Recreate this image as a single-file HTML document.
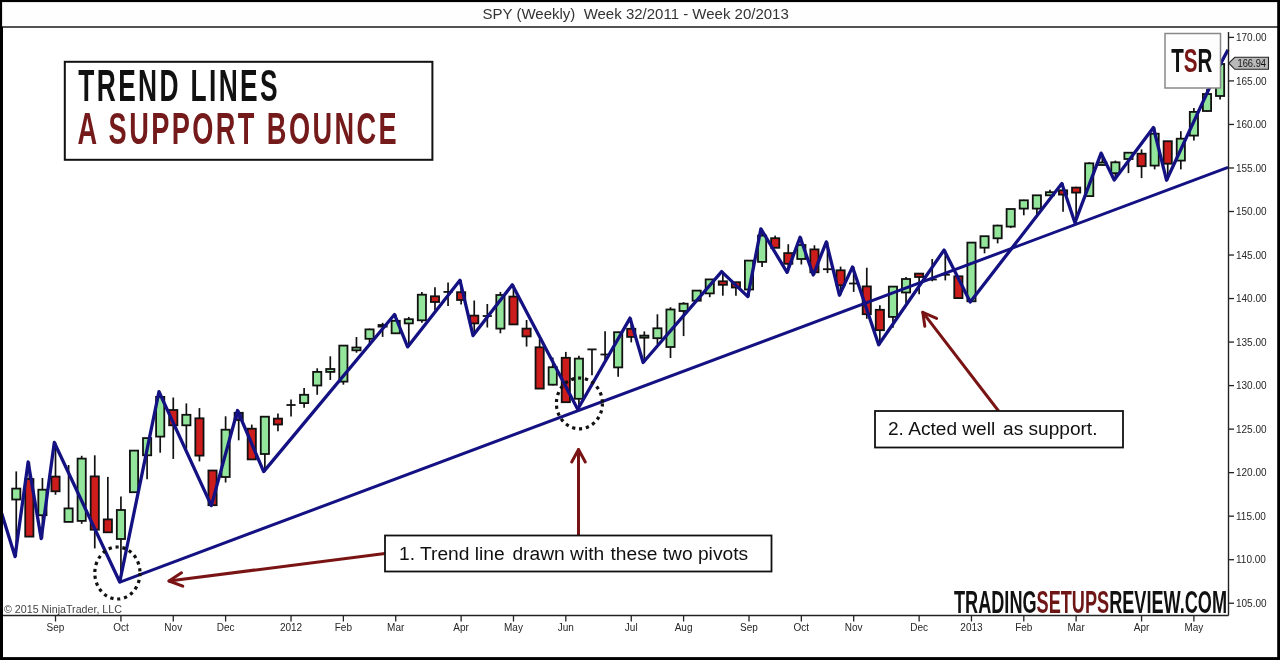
<!DOCTYPE html>
<html><head><meta charset="utf-8"><title>SPY Weekly - Trend Lines: A Support Bounce</title>
<style>
html,body{margin:0;padding:0;background:#fff;}
body{width:1280px;height:660px;overflow:hidden;}
svg{display:block;}
text{font-family:"Liberation Sans",Arial,sans-serif;}
.wk line{stroke:#111;stroke-width:1.7;}
.cd rect{stroke:#111;stroke-width:1.8;}
.cd .g{fill:#92e59a;}
.cd .r{fill:#cc1c1c;}
.cd .p{fill:#3c2a9c;}
.cd .dj{stroke:#111;stroke-width:1.8;}
.pa line,.da line{stroke:#222;stroke-width:1.3;}
.pa text{font-size:10px;fill:#262626;}
.da text{font-size:10px;fill:#262626;text-anchor:middle;}
.cond{font-family:"Liberation Sans",Arial,sans-serif;font-weight:bold;}
</style></head>
<body>
<svg width="1280" height="660" viewBox="0 0 1280 660">
<rect x="0" y="0" width="1280" height="660" fill="#fff"/>
<!-- title bar -->
<rect x="2" y="2" width="1276" height="26" fill="#fefefe"/>
<text x="482.5" y="19.2" font-size="15" fill="#333" xml:space="preserve">SPY (Weekly)  Week 32/2011 - Week 20/2013</text>
<line x1="2" y1="27" x2="1278" y2="27" stroke="#1a1a1a" stroke-width="1.7"/>
<!-- copyright -->
<text x="4" y="613" font-size="10.7" fill="#444">© 2015 NinjaTrader, LLC</text>
<!-- candles -->
<g class="wk cd">
<line x1="16.25" y1="471.4" x2="16.25" y2="556.6"/>
<line x1="29.34" y1="462" x2="29.34" y2="537"/>
<line x1="42.42" y1="478" x2="42.42" y2="538.6"/>
<line x1="55.51" y1="442.5" x2="55.51" y2="494.8"/>
<line x1="68.59" y1="465" x2="68.59" y2="522"/>
<line x1="81.68" y1="455.8" x2="81.68" y2="523.8"/>
<line x1="94.76" y1="455.3" x2="94.76" y2="548.4"/>
<line x1="107.84" y1="476.9" x2="107.84" y2="533"/>
<line x1="120.93" y1="496.4" x2="120.93" y2="582"/>
<line x1="134.02" y1="450.6" x2="134.02" y2="492.2"/>
<line x1="147.1" y1="438.1" x2="147.1" y2="479.2"/>
<line x1="160.19" y1="391.7" x2="160.19" y2="452.7"/>
<line x1="173.27" y1="397.5" x2="173.27" y2="458.9"/>
<line x1="186.36" y1="403.4" x2="186.36" y2="448.9"/>
<line x1="199.44" y1="408.1" x2="199.44" y2="461.4"/>
<line x1="212.53" y1="470.5" x2="212.53" y2="505.6"/>
<line x1="225.61" y1="416.3" x2="225.61" y2="482.5"/>
<line x1="238.7" y1="410.5" x2="238.7" y2="440.3"/>
<line x1="251.78" y1="424.6" x2="251.78" y2="459.5"/>
<line x1="264.87" y1="416.7" x2="264.87" y2="471.6"/>
<line x1="277.95" y1="413.6" x2="277.95" y2="431.2"/>
<line x1="291.04" y1="399.5" x2="291.04" y2="416.4"/>
<line x1="304.12" y1="388.1" x2="304.12" y2="407.8"/>
<line x1="317.21" y1="368.3" x2="317.21" y2="394.8"/>
<line x1="330.29" y1="356.3" x2="330.29" y2="380"/>
<line x1="343.38" y1="345.6" x2="343.38" y2="384.7"/>
<line x1="356.46" y1="337" x2="356.46" y2="352.7"/>
<line x1="369.55" y1="328.6" x2="369.55" y2="345.6"/>
<line x1="382.63" y1="322.8" x2="382.63" y2="336.9"/>
<line x1="395.72" y1="314.5" x2="395.72" y2="334"/>
<line x1="408.8" y1="316.9" x2="408.8" y2="346.9"/>
<line x1="421.89" y1="291.9" x2="421.89" y2="322.8"/>
<line x1="434.97" y1="287.2" x2="434.97" y2="310.6"/>
<line x1="448.06" y1="282.5" x2="448.06" y2="306"/>
<line x1="461.14" y1="280.2" x2="461.14" y2="304.4"/>
<line x1="474.23" y1="300.5" x2="474.23" y2="335.6"/>
<line x1="487.31" y1="304" x2="487.31" y2="327.5"/>
<line x1="500.4" y1="291.9" x2="500.4" y2="333.3"/>
<line x1="513.48" y1="284.8" x2="513.48" y2="324.5"/>
<line x1="526.57" y1="320" x2="526.57" y2="346.6"/>
<line x1="539.65" y1="338.8" x2="539.65" y2="389"/>
<line x1="552.74" y1="357.5" x2="552.74" y2="385.5"/>
<line x1="565.82" y1="351.9" x2="565.82" y2="403"/>
<line x1="578.91" y1="355.8" x2="578.91" y2="409.5"/>
<line x1="591.99" y1="349.4" x2="591.99" y2="375.3"/>
<line x1="605.08" y1="331.3" x2="605.08" y2="360"/>
<line x1="618.16" y1="332.2" x2="618.16" y2="376.8"/>
<line x1="631.25" y1="318.1" x2="631.25" y2="342.4"/>
<line x1="644.33" y1="331.4" x2="644.33" y2="362.5"/>
<line x1="657.42" y1="314.3" x2="657.42" y2="344.4"/>
<line x1="670.5" y1="307.2" x2="670.5" y2="358"/>
<line x1="683.59" y1="302.2" x2="683.59" y2="336.1"/>
<line x1="696.67" y1="290.6" x2="696.67" y2="300.7"/>
<line x1="709.75" y1="279.4" x2="709.75" y2="297.2"/>
<line x1="722.84" y1="271.6" x2="722.84" y2="295.7"/>
<line x1="735.93" y1="282.2" x2="735.93" y2="295.7"/>
<line x1="749.01" y1="260.6" x2="749.01" y2="296.6"/>
<line x1="762.1" y1="228.8" x2="762.1" y2="266.9"/>
<line x1="775.18" y1="235.6" x2="775.18" y2="248"/>
<line x1="788.27" y1="244.2" x2="788.27" y2="272.3"/>
<line x1="801.35" y1="237.2" x2="801.35" y2="264.5"/>
<line x1="814.44" y1="245.3" x2="814.44" y2="275"/>
<line x1="827.52" y1="241.9" x2="827.52" y2="273.1"/>
<line x1="840.61" y1="266.6" x2="840.61" y2="295.2"/>
<line x1="853.69" y1="266.9" x2="853.69" y2="291.9"/>
<line x1="866.78" y1="267.7" x2="866.78" y2="318.8"/>
<line x1="879.86" y1="305.2" x2="879.86" y2="344.7"/>
<line x1="892.95" y1="286.6" x2="892.95" y2="327.8"/>
<line x1="906.03" y1="277" x2="906.03" y2="303.6"/>
<line x1="919.12" y1="273.6" x2="919.12" y2="294.2"/>
<line x1="932.2" y1="259" x2="932.2" y2="281.3"/>
<line x1="945.29" y1="250" x2="945.29" y2="280.4"/>
<line x1="958.37" y1="276.3" x2="958.37" y2="298.1"/>
<line x1="971.46" y1="242.5" x2="971.46" y2="302"/>
<line x1="984.54" y1="236" x2="984.54" y2="253.3"/>
<line x1="997.63" y1="224.7" x2="997.63" y2="243.4"/>
<line x1="1010.71" y1="209" x2="1010.71" y2="228.1"/>
<line x1="1023.8" y1="199.7" x2="1023.8" y2="215.3"/>
<line x1="1036.88" y1="195.3" x2="1036.88" y2="216.4"/>
<line x1="1049.97" y1="189.8" x2="1049.97" y2="196"/>
<line x1="1063.05" y1="183.6" x2="1063.05" y2="211.7"/>
<line x1="1076.13" y1="186.8" x2="1076.13" y2="222.7"/>
<line x1="1089.22" y1="162.2" x2="1089.22" y2="196.5"/>
<line x1="1102.31" y1="153.1" x2="1102.31" y2="165.5"/>
<line x1="1115.39" y1="160.6" x2="1115.39" y2="180"/>
<line x1="1128.48" y1="152" x2="1128.48" y2="173.1"/>
<line x1="1141.56" y1="149.4" x2="1141.56" y2="178.1"/>
<line x1="1154.64" y1="127.5" x2="1154.64" y2="169.4"/>
<line x1="1167.73" y1="141" x2="1167.73" y2="180.2"/>
<line x1="1180.82" y1="131.2" x2="1180.82" y2="169.4"/>
<line x1="1193.9" y1="108" x2="1193.9" y2="140.6"/>
<line x1="1206.99" y1="89" x2="1206.99" y2="111.5"/>
<line x1="1220.07" y1="60" x2="1220.07" y2="99.5"/>
<rect class="g" x="12.15" y="488.6" width="8.2" height="10.9"/>
<rect class="r" x="25.23" y="479" width="8.2" height="57.6"/>
<rect class="g" x="38.32" y="489.7" width="8.2" height="25.5"/>
<rect class="r" x="51.41" y="476.6" width="8.2" height="14.7"/>
<rect class="g" x="64.49" y="508.4" width="8.2" height="13.5"/>
<rect class="g" x="77.58" y="458.6" width="8.2" height="62.3"/>
<rect class="r" x="90.66" y="476.4" width="8.2" height="53.3"/>
<rect class="r" x="103.75" y="519.4" width="8.2" height="12.9"/>
<rect class="g" x="116.83" y="510" width="8.2" height="29"/>
<rect class="g" x="129.92" y="450.6" width="8.2" height="41.6"/>
<rect class="g" x="143" y="438.1" width="8.2" height="17.2"/>
<rect class="g" x="156.09" y="396.9" width="8.2" height="39.7"/>
<rect class="r" x="169.17" y="410" width="8.2" height="15.3"/>
<rect class="g" x="182.26" y="414.8" width="8.2" height="10.5"/>
<rect class="r" x="195.34" y="418.3" width="8.2" height="37.3"/>
<rect class="r" x="208.43" y="470.5" width="8.2" height="34.7"/>
<rect class="g" x="221.51" y="429.7" width="8.2" height="47.3"/>
<rect class="p" x="234.6" y="412.8" width="8.2" height="7.2"/>
<rect class="r" x="247.68" y="428.7" width="8.2" height="30.7"/>
<rect class="g" x="260.76" y="416.7" width="8.2" height="37.3"/>
<rect class="r" x="273.85" y="418.6" width="8.2" height="5.9"/>
<line class="dj" x1="286.44" y1="405" x2="295.64" y2="405"/>
<rect class="g" x="300.02" y="394.8" width="8.2" height="8.3"/>
<rect class="g" x="313.11" y="371.9" width="8.2" height="13.6"/>
<rect class="g" x="326.19" y="369" width="8.2" height="2.9"/>
<rect class="g" x="339.27" y="345.6" width="8.2" height="36"/>
<rect class="g" x="352.36" y="347.5" width="8.2" height="2.8"/>
<rect class="g" x="365.44" y="329.4" width="8.2" height="9.4"/>
<rect class="g" x="378.53" y="325" width="8.2" height="1.6"/>
<rect class="g" x="391.62" y="320.8" width="8.2" height="12.5"/>
<rect class="g" x="404.7" y="319.2" width="8.2" height="4.2"/>
<rect class="g" x="417.79" y="294.7" width="8.2" height="25.6"/>
<rect class="r" x="430.87" y="296.3" width="8.2" height="5.7"/>
<line class="dj" x1="443.45" y1="291.9" x2="452.66" y2="291.9"/>
<rect class="r" x="457.04" y="292.2" width="8.2" height="7.8"/>
<rect class="r" x="470.12" y="315.6" width="8.2" height="7.8"/>
<line class="dj" x1="482.71" y1="316" x2="491.91" y2="316"/>
<rect class="g" x="496.3" y="295" width="8.2" height="33.6"/>
<rect class="r" x="509.38" y="296.6" width="8.2" height="27.8"/>
<rect class="r" x="522.47" y="328.6" width="8.2" height="7.8"/>
<rect class="r" x="535.55" y="347.3" width="8.2" height="41.3"/>
<rect class="g" x="548.63" y="367.2" width="8.2" height="17.5"/>
<rect class="r" x="561.72" y="357.8" width="8.2" height="44.4"/>
<rect class="g" x="574.81" y="358.6" width="8.2" height="40.2"/>
<line class="dj" x1="587.39" y1="349.4" x2="596.59" y2="349.4"/>
<line class="dj" x1="600.48" y1="354.5" x2="609.68" y2="354.5"/>
<rect class="g" x="614.06" y="332.2" width="8.2" height="35.2"/>
<rect class="r" x="627.14" y="328.8" width="8.2" height="8.1"/>
<rect class="g" x="640.23" y="335.6" width="8.2" height="2.1"/>
<rect class="g" x="653.32" y="328.3" width="8.2" height="9.9"/>
<rect class="g" x="666.4" y="309.5" width="8.2" height="37.5"/>
<rect class="g" x="679.49" y="303.7" width="8.2" height="7.3"/>
<rect class="g" x="692.57" y="290.6" width="8.2" height="10.1"/>
<rect class="g" x="705.65" y="279.4" width="8.2" height="14"/>
<rect class="r" x="718.74" y="281.3" width="8.2" height="3.5"/>
<rect class="r" x="731.83" y="282.2" width="8.2" height="5.3"/>
<rect class="g" x="744.91" y="260.6" width="8.2" height="28.9"/>
<rect class="g" x="758" y="235.6" width="8.2" height="26.3"/>
<rect class="r" x="771.08" y="238.2" width="8.2" height="9.6"/>
<rect class="r" x="784.17" y="253.1" width="8.2" height="10.7"/>
<rect class="g" x="797.25" y="245" width="8.2" height="14"/>
<rect class="r" x="810.34" y="249.4" width="8.2" height="22.9"/>
<line class="dj" x1="822.92" y1="269.2" x2="832.12" y2="269.2"/>
<rect class="r" x="836.5" y="270.3" width="8.2" height="15"/>
<line class="dj" x1="849.09" y1="283.5" x2="858.29" y2="283.5"/>
<rect class="r" x="862.68" y="286.4" width="8.2" height="27.8"/>
<rect class="r" x="875.76" y="309.8" width="8.2" height="20.4"/>
<rect class="g" x="888.85" y="286.6" width="8.2" height="30.3"/>
<rect class="g" x="901.93" y="279" width="8.2" height="13.5"/>
<rect class="r" x="915.01" y="273.6" width="8.2" height="3.4"/>
<line class="dj" x1="927.6" y1="279.5" x2="936.8" y2="279.5"/>
<line class="dj" x1="940.69" y1="274.7" x2="949.89" y2="274.7"/>
<rect class="r" x="954.27" y="276.3" width="8.2" height="21.8"/>
<rect class="g" x="967.36" y="242.6" width="8.2" height="58.7"/>
<rect class="g" x="980.44" y="236.2" width="8.2" height="11.5"/>
<rect class="g" x="993.53" y="225.6" width="8.2" height="12.7"/>
<rect class="g" x="1006.61" y="209" width="8.2" height="17.6"/>
<rect class="g" x="1019.7" y="200.3" width="8.2" height="8.3"/>
<rect class="g" x="1032.78" y="195.3" width="8.2" height="13.3"/>
<rect class="g" x="1045.87" y="192.2" width="8.2" height="3.1"/>
<rect class="r" x="1058.95" y="190.3" width="8.2" height="4.3"/>
<rect class="r" x="1072.04" y="187.6" width="8.2" height="5"/>
<rect class="g" x="1085.12" y="163.3" width="8.2" height="32.8"/>
<rect class="g" x="1098.21" y="162.5" width="8.2" height="2.5"/>
<rect class="g" x="1111.29" y="162.3" width="8.2" height="10.9"/>
<rect class="g" x="1124.38" y="152.7" width="8.2" height="6.3"/>
<rect class="r" x="1137.46" y="153.7" width="8.2" height="12.5"/>
<rect class="g" x="1150.55" y="133.7" width="8.2" height="31.9"/>
<rect class="r" x="1163.63" y="141.2" width="8.2" height="22.5"/>
<rect class="g" x="1176.72" y="138.7" width="8.2" height="21.9"/>
<rect class="g" x="1189.8" y="111.9" width="8.2" height="23.7"/>
<rect class="g" x="1202.89" y="94" width="8.2" height="17"/>
<rect class="g" x="1215.97" y="64" width="8.2" height="32"/>
</g>
<!-- trend line -->
<line x1="120" y1="582.1" x2="1228" y2="167.4" stroke="#141283" stroke-width="3"/>
<!-- zigzag -->
<polyline points="0,508 15.05,556.6 28.14,462 41.22,538.6 54.3,442.5 119.73,582 158.99,391.7 211.33,505.6 237.5,410.5 263.67,471.6 394.52,314.5 407.6,346.9 459.94,280.2 473.03,335.6 512.28,284.8 577.71,409.3 630.04,318.1 643.13,362.5 721.64,271.6 747.81,296.6 760.89,228.8 787.07,272.3 800.15,237.2 813.24,275 826.32,241.9 839.4,295.2 852.49,266.9 878.66,344.7 944.09,250 970.25,302 1061.85,183.6 1074.93,222.7 1101.11,153.1 1114.19,180 1153.44,127.5 1166.53,180.2 1221,63 1228,49.7" fill="none" stroke="#141283" stroke-width="3.3" stroke-linejoin="round"/>
<!-- dotted circles -->
<ellipse cx="117.4" cy="573" rx="22.6" ry="26" fill="none" stroke="#111" stroke-width="3.2" stroke-dasharray="3.2 3.8"/>
<ellipse cx="579.4" cy="403.4" rx="23" ry="25.4" fill="none" stroke="#111" stroke-width="3.2" stroke-dasharray="3.2 3.8"/>
<!-- axes -->
<line x1="1228.5" y1="32" x2="1228.5" y2="615.5" stroke="#222" stroke-width="1.4"/>
<line x1="3" y1="615.5" x2="1228.5" y2="615.5" stroke="#222" stroke-width="1.5"/>
<g class="pa">
<line x1="1228" y1="603.23" x2="1234" y2="603.23"/>
<text x="1236" y="606.83">105.00</text>
<line x1="1228" y1="559.7" x2="1234" y2="559.7"/>
<text x="1236" y="563.3">110.00</text>
<line x1="1228" y1="516.17" x2="1234" y2="516.17"/>
<text x="1236" y="519.77">115.00</text>
<line x1="1228" y1="472.65" x2="1234" y2="472.65"/>
<text x="1236" y="476.25">120.00</text>
<line x1="1228" y1="429.12" x2="1234" y2="429.12"/>
<text x="1236" y="432.73">125.00</text>
<line x1="1228" y1="385.6" x2="1234" y2="385.6"/>
<text x="1236" y="389.2">130.00</text>
<line x1="1228" y1="342.07" x2="1234" y2="342.07"/>
<text x="1236" y="345.68">135.00</text>
<line x1="1228" y1="298.55" x2="1234" y2="298.55"/>
<text x="1236" y="302.15">140.00</text>
<line x1="1228" y1="255.03" x2="1234" y2="255.03"/>
<text x="1236" y="258.62">145.00</text>
<line x1="1228" y1="211.5" x2="1234" y2="211.5"/>
<text x="1236" y="215.1">150.00</text>
<line x1="1228" y1="167.97" x2="1234" y2="167.97"/>
<text x="1236" y="171.57">155.00</text>
<line x1="1228" y1="124.45" x2="1234" y2="124.45"/>
<text x="1236" y="128.05">160.00</text>
<line x1="1228" y1="80.92" x2="1234" y2="80.92"/>
<text x="1236" y="84.52">165.00</text>
<line x1="1228" y1="37.4" x2="1234" y2="37.4"/>
<text x="1236" y="41">170.00</text>
</g>
<g class="da">
<line x1="55.51" y1="615.5" x2="55.51" y2="621.5"/>
<text x="55.51" y="631">Sep</text>
<line x1="120.93" y1="615.5" x2="120.93" y2="621.5"/>
<text x="120.93" y="631">Oct</text>
<line x1="173.27" y1="615.5" x2="173.27" y2="621.5"/>
<text x="173.27" y="631">Nov</text>
<line x1="225.61" y1="615.5" x2="225.61" y2="621.5"/>
<text x="225.61" y="631">Dec</text>
<line x1="291.04" y1="615.5" x2="291.04" y2="621.5"/>
<text x="291.04" y="631">2012</text>
<line x1="343.38" y1="615.5" x2="343.38" y2="621.5"/>
<text x="343.38" y="631">Feb</text>
<line x1="395.72" y1="615.5" x2="395.72" y2="621.5"/>
<text x="395.72" y="631">Mar</text>
<line x1="461.14" y1="615.5" x2="461.14" y2="621.5"/>
<text x="461.14" y="631">Apr</text>
<line x1="513.48" y1="615.5" x2="513.48" y2="621.5"/>
<text x="513.48" y="631">May</text>
<line x1="565.82" y1="615.5" x2="565.82" y2="621.5"/>
<text x="565.82" y="631">Jun</text>
<line x1="631.25" y1="615.5" x2="631.25" y2="621.5"/>
<text x="631.25" y="631">Jul</text>
<line x1="683.59" y1="615.5" x2="683.59" y2="621.5"/>
<text x="683.59" y="631">Aug</text>
<line x1="749.01" y1="615.5" x2="749.01" y2="621.5"/>
<text x="749.01" y="631">Sep</text>
<line x1="801.35" y1="615.5" x2="801.35" y2="621.5"/>
<text x="801.35" y="631">Oct</text>
<line x1="853.69" y1="615.5" x2="853.69" y2="621.5"/>
<text x="853.69" y="631">Nov</text>
<line x1="919.12" y1="615.5" x2="919.12" y2="621.5"/>
<text x="919.12" y="631">Dec</text>
<line x1="971.46" y1="615.5" x2="971.46" y2="621.5"/>
<text x="971.46" y="631">2013</text>
<line x1="1023.8" y1="615.5" x2="1023.8" y2="621.5"/>
<text x="1023.8" y="631">Feb</text>
<line x1="1076.13" y1="615.5" x2="1076.13" y2="621.5"/>
<text x="1076.13" y="631">Mar</text>
<line x1="1141.56" y1="615.5" x2="1141.56" y2="621.5"/>
<text x="1141.56" y="631">Apr</text>
<line x1="1193.9" y1="615.5" x2="1193.9" y2="621.5"/>
<text x="1193.9" y="631">May</text>
</g>
<!-- last price marker -->
<polygon points="1228.8,63.2 1234.8,57.3 1268.5,57.3 1268.5,69.3 1234.8,69.3" fill="#b9b9b9" stroke="#222" stroke-width="1.1"/>
<text x="1237.5" y="67.2" font-size="10" fill="#111" textLength="28.5" lengthAdjust="spacingAndGlyphs">166.94</text>
<!-- TSR box -->
<rect x="1165" y="33.5" width="55.5" height="54.5" fill="#fdfdfd" stroke="#888" stroke-width="1.5"/>
<text class="cond" x="1171.2" y="71.7" font-size="33" textLength="41.2" lengthAdjust="spacingAndGlyphs" font-weight="normal"><tspan fill="#111">T</tspan><tspan fill="#7a1515">S</tspan><tspan fill="#111">R</tspan></text>
<!-- title box -->
<rect x="64.8" y="61.8" width="367.6" height="98" fill="#fff" stroke="#111" stroke-width="2"/>
<text class="cond" x="78.3" y="101" font-size="44.5" textLength="201.6" lengthAdjust="spacingAndGlyphs" style="letter-spacing:4px" fill="#111">TREND LINES</text>
<text class="cond" x="77.6" y="143.8" font-size="45" textLength="321.5" lengthAdjust="spacingAndGlyphs" style="letter-spacing:4px" fill="#741a1a">A SUPPORT BOUNCE</text>
<!-- arrows -->
<g stroke="#7a1414" stroke-width="3" fill="none" stroke-linecap="round" stroke-linejoin="round">
<line x1="385" y1="553.4" x2="169" y2="581"/>
<polyline points="181.5,572.8 169,581 182.8,586.2"/>
<line x1="578.5" y1="535" x2="578.5" y2="449.5"/>
<polyline points="571.7,462 578.5,449.5 585.3,462"/>
<line x1="998.2" y1="410.5" x2="922.8" y2="312.3"/>
<polyline points="924.8,326.2 922.8,312.3 936.6,318.4"/>
</g>
<!-- annotation boxes -->
<rect x="385" y="535.5" width="386.5" height="36" fill="#fff" stroke="#111" stroke-width="1.8"/>
<text x="399" y="560.2" font-size="19.2" fill="#111">1. Trend line<tspan dx="2.5"> drawn with</tspan><tspan dx="1"> these two pivots</tspan></text>
<rect x="875" y="411" width="248" height="36.5" fill="#fff" stroke="#111" stroke-width="1.8"/>
<text x="888" y="435.4" font-size="19.1" fill="#111">2. Acted well<tspan dx="2.5"> as support.</tspan></text>
<!-- watermark -->
<text class="cond" x="954" y="612.6" font-size="31" textLength="273" lengthAdjust="spacingAndGlyphs" font-weight="bold"><tspan fill="#111">TRADING</tspan><tspan fill="#6e1515">SETUPS</tspan><tspan fill="#111">REVIEW.COM</tspan></text>
<!-- outer border -->
<rect x="1" y="1" width="1277.5" height="657.5" fill="none" stroke="#000" stroke-width="2.2"/>
<line x1="1278.8" y1="0" x2="1278.8" y2="660" stroke="#000" stroke-width="2.6"/>
<line x1="1.5" y1="27" x2="1.5" y2="660" stroke="#000" stroke-width="3"/>
<line x1="0" y1="658.6" x2="1280" y2="658.6" stroke="#000" stroke-width="2.8"/>
</svg>
</body></html>
